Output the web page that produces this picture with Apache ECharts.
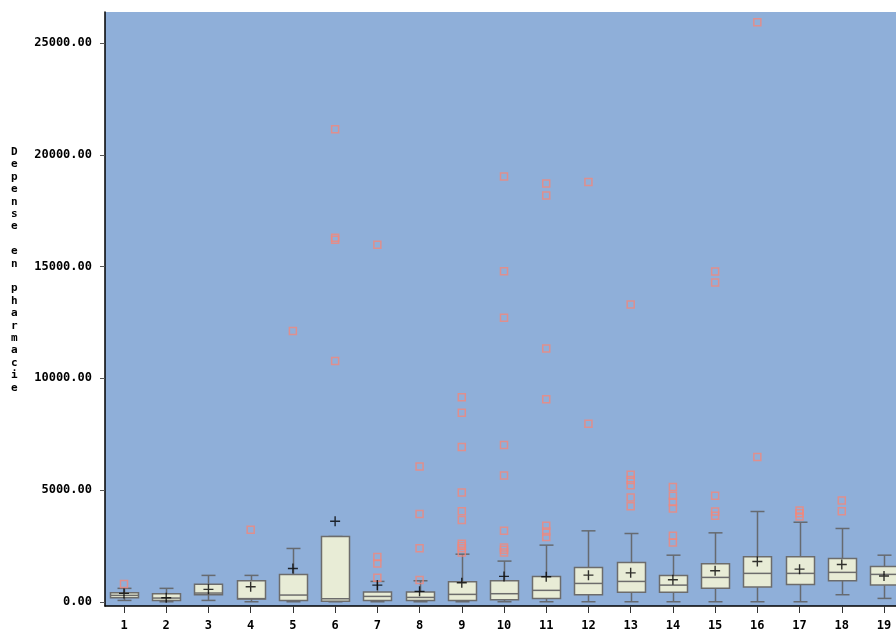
<!DOCTYPE html>
<html>
<head>
<meta charset="utf-8">
<script src="https://cdn.jsdelivr.net/npm/echarts@6/dist/echarts.min.js"></script>
<style>
  html, body { margin: 0; padding: 0; background: #fff; }
  #main { width: 896px; height: 632px; }
</style>
</head>
<body>
<div id="main"></div>
<script>
// groups on the x axis
var categories = [1, 2, 3, 4, 5, 6, 7, 8, 9, 10, 11, 12, 13, 14, 15, 16, 17, 18, 19];

// box statistics
var whiskerLow  = [60, 0, 60, 0, 0, 0, 0, 0, 0, 0, 0, 0, 0, 0, 0, 0, 0, 315, 150];
var quartile1   = [180, 60, 315, 120, 60, 20, 60, 60, 60, 90, 150, 315, 420, 420, 610, 655, 775, 940, 745];
var medians     = [285, 165, 390, 140, 300, 135, 240, 195, 330, 360, 510, 820, 910, 745, 1090, 1270, 1270, 1315, 1225];
var quartile3   = [400, 360, 780, 940, 1225, 2920, 435, 435, 895, 940, 1135, 1535, 1760, 1180, 1700, 2010, 2010, 1940, 1580];
var whiskerHigh = [600, 600, 1180, 1180, 2385, 2920, 910, 940, 2130, 1820, 2535, 3175, 3055, 2085, 3085, 4040, 3560, 3280, 2085];
var means       = [375, 180, 555, 670, 1490, 3605, 745, 465, 850, 1135, 1120, 1190, 1295, 985, 1385, 1805, 1460, 1670, 1150];

// outliers per group
var outliers = [
    [800],
    [],
    [],
    [3220],
    [12120],
    [21150, 16300, 16200, 10780],
    [15985, 2000, 1715, 1075],
    [6050, 3930, 2400, 970],
    [9160, 8465, 6930, 4890, 4050, 3660, 2600, 2500, 2390, 2210],
    [19040, 14790, 12710, 7015, 5650, 3175, 2430, 2325, 2205],
    [18725, 18190, 11340, 9060, 3400, 3150, 2900],
    [18790, 7970],
    [13305, 5690, 5455, 5215, 4665, 4275],
    [5140, 4740, 4470, 4175, 2950, 2655],
    [14780, 14290, 4740, 4040, 3850],
    [25945, 6480],
    [4085, 3965, 3815],
    [4530, 4055],
    []
];

var yTicks = [0, 5000, 10000, 15000, 20000, 25000];

var chartDom = document.getElementById('main');
var myChart = echarts.init(chartDom);
var option;

var boxData = [], meanData = [], outlierData = [];
categories.forEach(function (c, i) {
    boxData.push([c, whiskerLow[i], quartile1[i], medians[i], quartile3[i], whiskerHigh[i]]);
    meanData.push([c, means[i]]);
    outliers[i].forEach(function (v) {
        outlierData.push([c, v]);
    });
});

var axisFont = {
    color: '#000',
    fontSize: 12,
    fontWeight: 'bold',
    fontFamily: 'DejaVu Sans Mono'
};

function renderBox(params, api) {
    var x = api.value(0);
    var low = api.coord([x, api.value(1)]);
    var q1 = api.coord([x, api.value(2)]);
    var med = api.coord([x, api.value(3)]);
    var q3 = api.coord([x, api.value(4)]);
    var high = api.coord([x, api.value(5)]);
    var cx = Math.round(low[0]) + 0.5;
    var hb = 14, hc = 7; // half box width, half cap width
    var lineStyle = { stroke: '#666a70', lineWidth: 1.5 };
    return {
        type: 'group',
        children: [
            { type: 'line', shape: { x1: cx, y1: low[1], x2: cx, y2: q1[1] }, style: lineStyle },
            { type: 'line', shape: { x1: cx, y1: q3[1], x2: cx, y2: high[1] }, style: lineStyle },
            { type: 'line', shape: { x1: cx - hc, y1: low[1], x2: cx + hc, y2: low[1] }, style: lineStyle },
            { type: 'line', shape: { x1: cx - hc, y1: high[1], x2: cx + hc, y2: high[1] }, style: lineStyle },
            {
                type: 'rect',
                shape: { x: cx - hb, y: q3[1], width: hb * 2, height: q1[1] - q3[1] },
                style: { fill: '#e8ecd6', stroke: '#6c6c6c', lineWidth: 1.5 }
            },
            { type: 'line', shape: { x1: cx - hb, y1: med[1], x2: cx + hb, y2: med[1] }, style: { stroke: '#6c6c6c', lineWidth: 1.5 } }
        ]
    };
}

option = {
    animation: false,
    backgroundColor: '#ffffff',
    grid: {
        left: 105,
        right: 0,
        top: 12,
        bottom: 25,
        show: true,
        backgroundColor: '#8fafd9',
        borderWidth: 0
    },
    graphic: [
        {
            type: 'text',
            left: 11,
            top: 146,
            style: {
                text: 'Depense en pharmacie'.split('').join('\n'),
                fill: '#000',
                font: 'bold 11px "DejaVu Sans Mono"',
                lineHeight: 12.4,
                align: 'center'
            }
        }
    ],
    xAxis: {
        type: 'value',
        min: 0.55,
        max: 19.284,
        splitLine: { show: false },
        axisLine: { onZero: false, lineStyle: { color: '#000', width: 1.5 } },
        axisTick: { customValues: categories, length: 7, lineStyle: { color: '#333' } },
        axisLabel: Object.assign({ customValues: categories, margin: 14 }, axisFont)
    },
    yAxis: {
        type: 'value',
        min: -190,
        max: 26400,
        splitLine: { show: false },
        axisLine: { show: true, onZero: false, lineStyle: { color: '#000', width: 1.5 } },
        axisTick: { show: true, customValues: yTicks, length: 5, lineStyle: { color: '#555' } },
        axisLabel: Object.assign({
            customValues: yTicks,
            margin: 13,
            formatter: function (v) { return v.toFixed(2); }
        }, axisFont)
    },
    series: [
        {
            type: 'custom',
            renderItem: renderBox,
            data: boxData,
            z: 2
        },
        {
            type: 'scatter',
            data: outlierData,
            symbol: 'rect',
            symbolSize: 7,
            itemStyle: { color: 'rgba(0,0,0,0)', borderColor: '#f2877a', borderWidth: 1.5 },
            z: 3
        },
        {
            type: 'scatter',
            data: meanData,
            symbol: 'path://M4.3 0H5.7V10H4.3ZM0 4.3H10V5.7H0Z',
            symbolSize: 10,
            itemStyle: { color: '#000' },
            z: 4
        }
    ]
};

option && myChart.setOption(option);
</script>
</body>
</html>
